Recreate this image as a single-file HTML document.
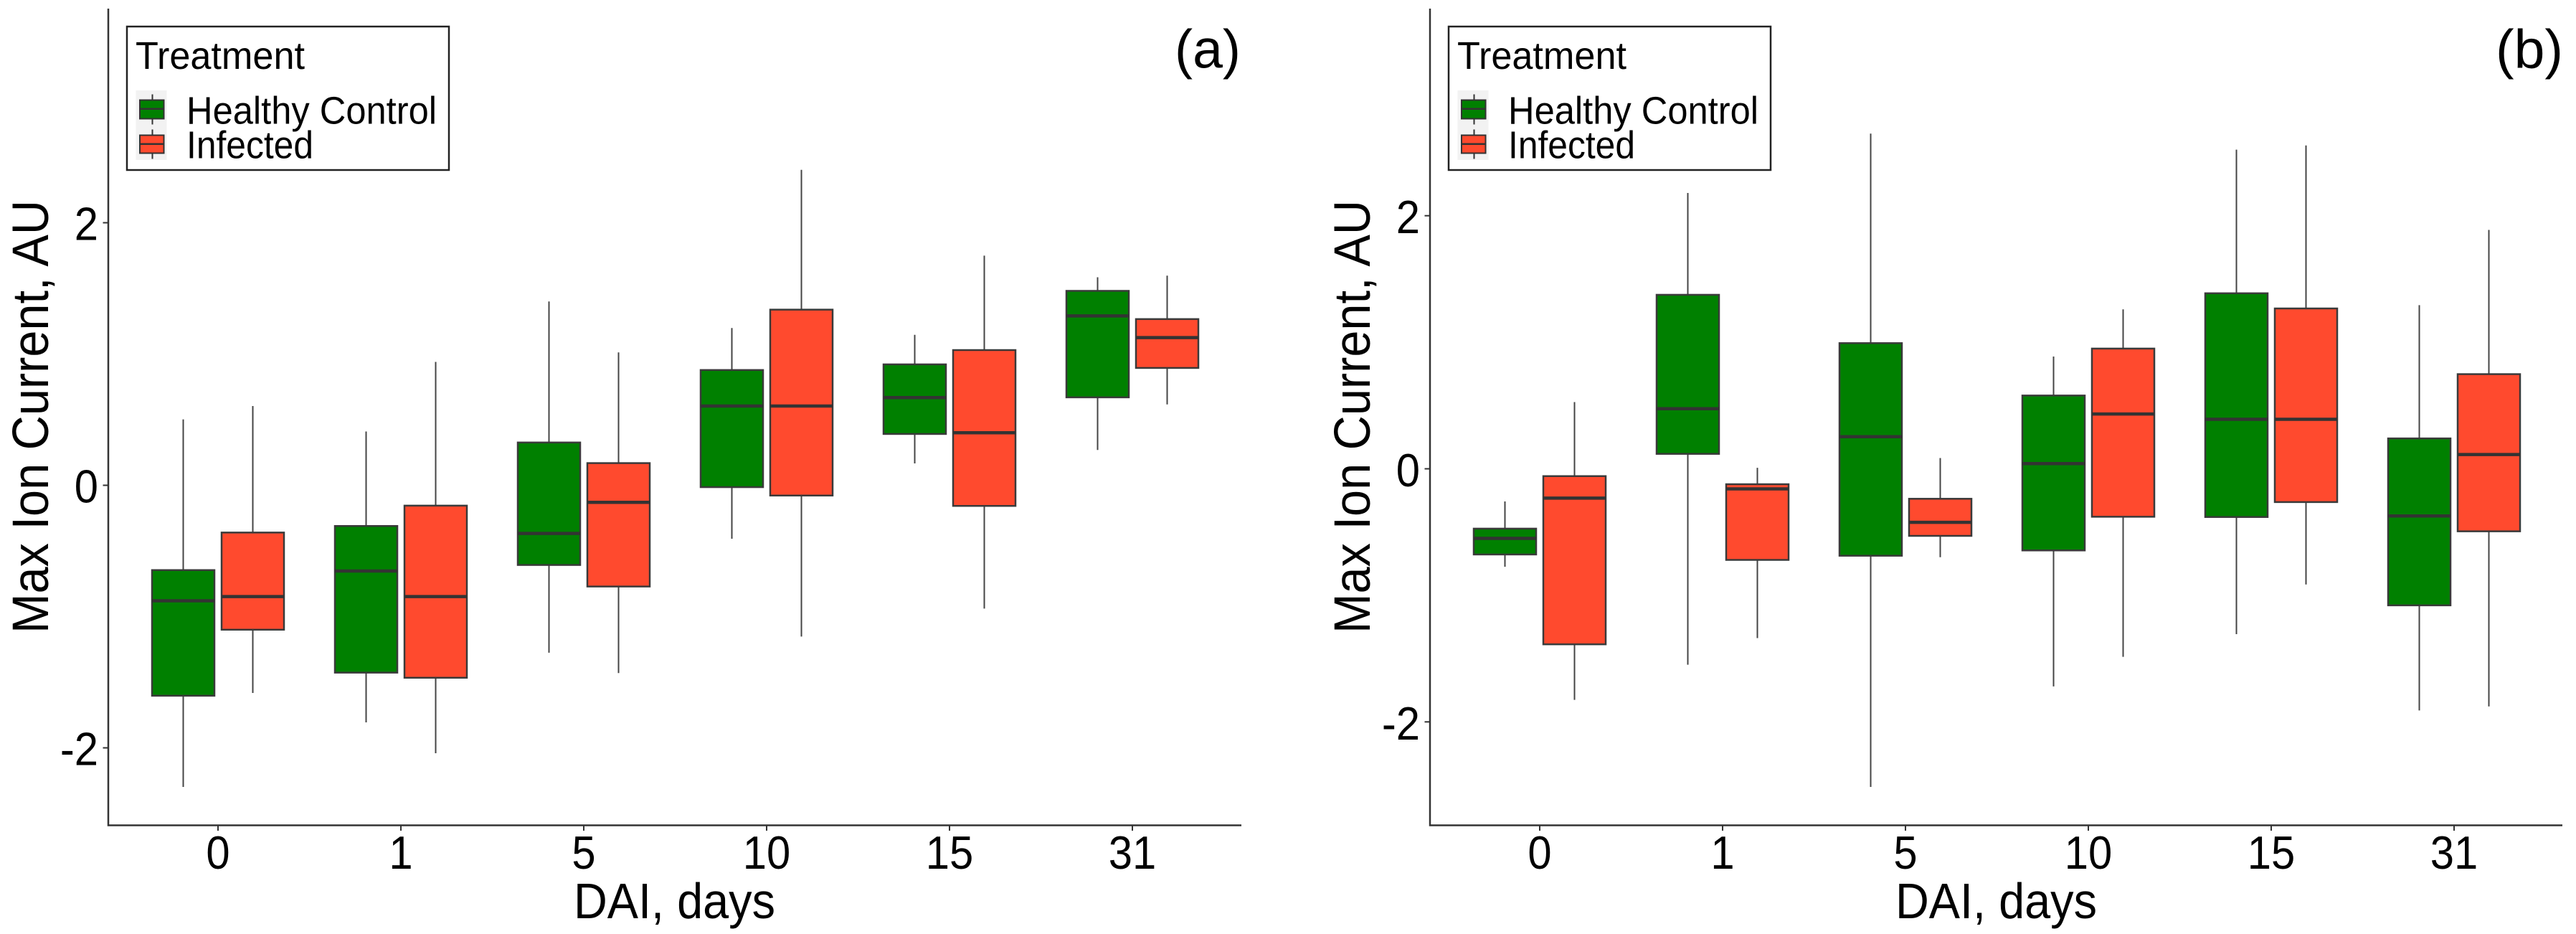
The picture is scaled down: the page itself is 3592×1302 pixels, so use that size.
<!DOCTYPE html>
<html lang="en">
<head>
<meta charset="utf-8">
<title>Max Ion Current boxplots</title>
<style>
html,body{margin:0;padding:0;background:#fff;}
svg{display:block;}
text{font-family:"Liberation Sans",Arial,sans-serif;fill:#000;}
</style>
</head>
<body>
<svg id="figure" width="3592" height="1302" viewBox="0 0 3592 1302" xmlns="http://www.w3.org/2000/svg">
<rect width="3592" height="1302" fill="#fff"/>

<g id="panel-a">
  <path d="M151 12V1150.5H1731" fill="none" stroke="#333" stroke-width="2.5"/>
  <g class="ticks"></g>
  <g class="marks"></g>
  <text x="800" y="1280" font-size="70" textLength="281" lengthAdjust="spacingAndGlyphs">DAI, days</text>
  <text transform="translate(67,883) rotate(-90)" x="0" y="0" font-size="71" textLength="604" lengthAdjust="spacingAndGlyphs">Max Ion Current, AU</text>
  <text x="1638" y="94.5" font-size="76" textLength="92" lengthAdjust="spacingAndGlyphs">(a)</text>
  <g>
    <rect x="177" y="37" width="449" height="200" fill="#fff" stroke="#222" stroke-width="2.5"/>
    <text x="189" y="96" font-size="54" textLength="236" lengthAdjust="spacingAndGlyphs">Treatment</text>
    <rect x="189.5" y="126" width="43" height="97" fill="#f2f2f2"/>
    <g>
      <line x1="212.5" x2="212.5" y1="131.5" y2="173.5" stroke="#333" stroke-width="2"/>
      <rect x="195" y="139.5" width="33.5" height="26" fill="#008000" stroke="#333" stroke-width="2"/>
      <line x1="195" x2="228.5" y1="151.7" y2="151.7" stroke="#333" stroke-width="2.5"/>
    </g>
    <g>
      <line x1="212.5" x2="212.5" y1="180.5" y2="221.5" stroke="#333" stroke-width="2"/>
      <rect x="195" y="188.5" width="33.5" height="25" fill="#ff4a2e" stroke="#333" stroke-width="2"/>
      <line x1="195" x2="228.5" y1="200.7" y2="200.7" stroke="#333" stroke-width="2.5"/>
    </g>
    <text x="260" y="172.7" font-size="54" textLength="349" lengthAdjust="spacingAndGlyphs">Healthy Control</text>
    <text x="260" y="220.7" font-size="54" textLength="177" lengthAdjust="spacingAndGlyphs">Infected</text>
  </g>
</g>

<g id="panel-b" transform="translate(1843,0)">
  <path d="M151 12V1150.5H1730" fill="none" stroke="#333" stroke-width="2.5"/>
  <g class="ticks"></g>
  <g class="marks"></g>
  <text x="800" y="1280" font-size="70" textLength="281" lengthAdjust="spacingAndGlyphs">DAI, days</text>
  <text transform="translate(67,883) rotate(-90)" x="0" y="0" font-size="71" textLength="604" lengthAdjust="spacingAndGlyphs">Max Ion Current, AU</text>
  <text x="1637" y="94.5" font-size="76" textLength="94" lengthAdjust="spacingAndGlyphs">(b)</text>
  <g>
    <rect x="177" y="37" width="449" height="200" fill="#fff" stroke="#222" stroke-width="2.5"/>
    <text x="189" y="96" font-size="54" textLength="236" lengthAdjust="spacingAndGlyphs">Treatment</text>
    <rect x="189.5" y="126" width="43" height="97" fill="#f2f2f2"/>
    <g>
      <line x1="212.5" x2="212.5" y1="131.5" y2="173.5" stroke="#333" stroke-width="2"/>
      <rect x="195" y="139.5" width="33.5" height="26" fill="#008000" stroke="#333" stroke-width="2"/>
      <line x1="195" x2="228.5" y1="151.7" y2="151.7" stroke="#333" stroke-width="2.5"/>
    </g>
    <g>
      <line x1="212.5" x2="212.5" y1="180.5" y2="221.5" stroke="#333" stroke-width="2"/>
      <rect x="195" y="188.5" width="33.5" height="25" fill="#ff4a2e" stroke="#333" stroke-width="2"/>
      <line x1="195" x2="228.5" y1="200.7" y2="200.7" stroke="#333" stroke-width="2.5"/>
    </g>
    <text x="260" y="172.7" font-size="54" textLength="349" lengthAdjust="spacingAndGlyphs">Healthy Control</text>
    <text x="260" y="220.7" font-size="54" textLength="177" lengthAdjust="spacingAndGlyphs">Infected</text>
  </g>
</g>
</svg>

<script>
// Shared axis data
const categories = ['0', '1', '5', '10', '15', '31'];
const yTickValues = [-2, 0, 2];
const yTickLabels = ['-2', '0', '2'];

// Panel (a), Healthy Control
const aHealthyLow = [-2.298, -1.806, -1.275, -0.407, 0.167, 0.269];
const aHealthyQ1 = [-1.603, -1.427, -0.607, -0.014, 0.391, 0.67];
const aHealthyMedian = [-0.88, -0.653, -0.367, 0.604, 0.668, 1.29];
const aHealthyQ3 = [-0.646, -0.31, 0.326, 0.878, 0.921, 1.481];
const aHealthyHigh = [0.502, 0.41, 1.4, 1.198, 1.146, 1.585];

// Panel (a), Infected
const aInfectedLow = [-1.582, -2.041, -1.43, -1.152, -0.939, 0.616];
const aInfectedQ1 = [-1.1, -1.466, -0.771, -0.078, -0.157, 0.894];
const aInfectedMedian = [-0.848, -0.848, -0.13, 0.604, 0.4, 1.125];
const aInfectedQ3 = [-0.36, -0.155, 0.169, 1.338, 1.03, 1.266];
const aInfectedHigh = [0.604, 0.94, 1.012, 2.403, 1.749, 1.597];

// Panel (b), Healthy Control
const bHealthyLow = [-0.774, -1.548, -2.514, -1.72, -1.307, -1.91];
const bHealthyQ1 = [-0.677, 0.118, -0.687, -0.645, -0.381, -1.079];
const bHealthyMedian = [-0.55, 0.475, 0.254, 0.041, 0.391, -0.373];
const bHealthyQ3 = [-0.473, 1.375, 0.993, 0.579, 1.387, 0.24];
const bHealthyHigh = [-0.258, 2.18, 2.649, 0.887, 2.522, 1.293];

// Panel (b), Infected
const bInfectedLow = [-1.826, -1.338, -0.699, -1.486, -0.914, -1.878];
const bInfectedQ1 = [-1.387, -0.72, -0.53, -0.379, -0.263, -0.494];
const bInfectedMedian = [-0.232, -0.159, -0.423, 0.433, 0.391, 0.113];
const bInfectedQ3 = [-0.058, -0.122, -0.237, 0.95, 1.267, 0.748];
const bInfectedHigh = [0.527, 0.008, 0.085, 1.26, 2.555, 1.888];

const SVG_NS = 'http://www.w3.org/2000/svg';
const HEALTHY_FILL = '#008000';
const INFECTED_FILL = '#ff4a2e';
const STROKE = '#3a3a3a';
const TICK_FONT = 65;
const TICK_SQUEEZE = 0.92;

function makeXScale() {
  return function (index) { return 304 + 255 * index; };
}
function makeYScale(zeroPixel, pixelsPerUnit) {
  return function (value) { return zeroPixel - value * pixelsPerUnit; };
}
function svgEl(tag, attrs) {
  const el = document.createElementNS(SVG_NS, tag);
  for (const key in attrs) el.setAttribute(key, attrs[key]);
  return el;
}
function squeezedWidth(label) {
  let em = 0;
  for (const ch of label) em += ch === '-' ? 0.333 : 0.556;
  return em * TICK_FONT * TICK_SQUEEZE;
}

function drawTicks(group, xScale, yScale, yLabelBaselineOffset) {
  categories.forEach(function (label, i) {
    const tick = svgEl('line', { x1: xScale(i), x2: xScale(i), y1: 1150.5, y2: 1158, stroke: '#333', 'stroke-width': 2 });
    
    
    group.appendChild(tick);
    const text = svgEl('text', { x: xScale(i), y: 1211, 'font-size': TICK_FONT, 'text-anchor': 'middle', textLength: squeezedWidth(label), lengthAdjust: 'spacingAndGlyphs' });
    text.textContent = label;
    
    
    group.appendChild(text);
  });
  yTickValues.forEach(function (value, i) {
    const tick = svgEl('line', { x1: 143.5, x2: 151, y1: yScale(value), y2: yScale(value), stroke: '#333', 'stroke-width': 2 });
    
    
    group.appendChild(tick);
    const text = svgEl('text', { x: 137, y: yScale(value) + yLabelBaselineOffset, 'font-size': TICK_FONT, 'text-anchor': 'end', textLength: squeezedWidth(yTickLabels[i]), lengthAdjust: 'spacingAndGlyphs' });
    text.textContent = yTickLabels[i];
    
    
    group.appendChild(text);
  });
}

function drawSeries(group, xScale, yScale, side, fill, seriesName, low, q1, median, q3, high) {
  const boxWidth = 87;
  categories.forEach(function (label, i) {
    const cx = xScale(i) + side * 48.5;
    const box = svgEl('g', {});
    
    
    const whisker = svgEl('line', { x1: cx, x2: cx, y1: yScale(high[i]), y2: yScale(low[i]), stroke: '#444', 'stroke-width': 2 });
    
    
    box.appendChild(whisker);
    const rect = svgEl('rect', { x: cx - boxWidth / 2, y: yScale(q3[i]), width: boxWidth, height: yScale(q1[i]) - yScale(q3[i]), fill: fill, stroke: STROKE, 'stroke-width': 2.5 });
    
    
    box.appendChild(rect);
    const med = svgEl('line', { x1: cx - boxWidth / 2, x2: cx + boxWidth / 2, y1: yScale(median[i]), y2: yScale(median[i]), stroke: '#333', 'stroke-width': 4.5 });
    
    
    box.appendChild(med);
    group.appendChild(box);
  });
}

const xScale = makeXScale();
const yScaleA = makeYScale(676.5, 183);
const yScaleB = makeYScale(653.5, 176.4);
const panelA = document.getElementById('panel-a');
const panelB = document.getElementById('panel-b');

drawTicks(panelA.querySelector('.ticks'), xScale, yScaleA, 24);
drawSeries(panelA.querySelector('.marks'), xScale, yScaleA, -1, HEALTHY_FILL, 'healthy', aHealthyLow, aHealthyQ1, aHealthyMedian, aHealthyQ3, aHealthyHigh);
drawSeries(panelA.querySelector('.marks'), xScale, yScaleA, 1, INFECTED_FILL, 'infected', aInfectedLow, aInfectedQ1, aInfectedMedian, aInfectedQ3, aInfectedHigh);

drawTicks(panelB.querySelector('.ticks'), xScale, yScaleB, 24.5);
drawSeries(panelB.querySelector('.marks'), xScale, yScaleB, -1, HEALTHY_FILL, 'healthy', bHealthyLow, bHealthyQ1, bHealthyMedian, bHealthyQ3, bHealthyHigh);
drawSeries(panelB.querySelector('.marks'), xScale, yScaleB, 1, INFECTED_FILL, 'infected', bInfectedLow, bInfectedQ1, bInfectedMedian, bInfectedQ3, bInfectedHigh);
</script>
</body>
</html>
